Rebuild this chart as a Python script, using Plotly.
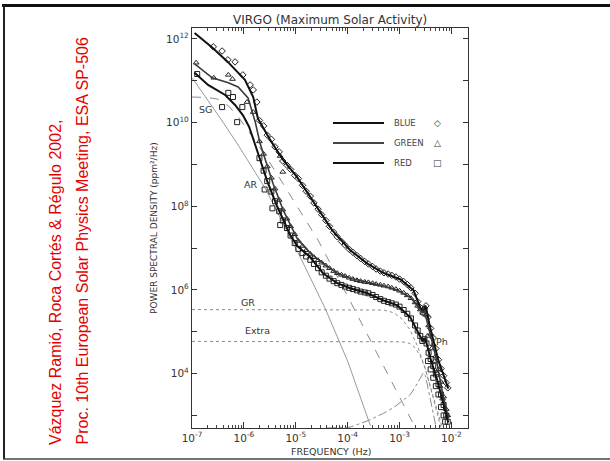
import numpy as np
import plotly.graph_objects as go

# ---------------- data (log10 frequency in Hz, log10 PSD in ppm^2/Hz) ----------------
# fitted model curves
blue_fit_lf = [-6.95, -6.60, -6.31, -5.98, -5.82, -5.73, -5.49, -5.24, -4.97, -4.72, -4.47, -4.30,
               -3.95, -3.62, -3.33, -2.98, -2.73, -2.60, -2.54, -2.50, -2.41, -2.25, -2.06]
blue_fit_lp = [12.14, 11.78, 11.45, 11.02, 10.61, 10.10, 9.58, 9.10, 8.69, 8.22, 7.74, 7.43,
               6.95, 6.63, 6.42, 6.25, 5.99, 5.58, 5.46, 5.63, 5.10, 4.31, 3.64]
green_fit_lf = [-6.95, -6.61, -6.30, -6.11, -5.92, -5.78, -5.69, -5.44, -5.24, -4.97, -4.72, -4.47,
                -4.20, -3.95, -3.62, -3.31, -3.04, -2.79, -2.66, -2.56, -2.52, -2.45, -2.30, -2.15, -2.06]
green_fit_lp = [11.40, 11.07, 10.95, 10.85, 10.59, 10.01, 9.51, 8.55, 7.90, 7.22, 6.88, 6.63,
                6.40, 6.28, 6.18, 6.10, 6.00, 5.82, 5.63, 5.46, 5.50, 5.15, 4.40, 3.40, 2.95]
red_fit_lf = [-6.95, -6.69, -6.36, -6.17, -6.02, -5.90, -5.75, -5.55, -5.36, -5.11, -4.97, -4.72,
              -4.47, -4.20, -3.95, -3.62, -3.31, -3.04, -2.79, -2.66, -2.56, -2.50, -2.40, -2.27, -2.06]
red_fit_lp = [11.19, 10.90, 10.66, 10.42, 10.18, 9.90, 9.35, 8.60, 8.00, 7.32, 7.05, 6.78,
              6.39, 6.16, 6.04, 5.92, 5.75, 5.63, 5.34, 5.03, 4.79, 4.83, 4.35, 3.83, 2.83]

# observed spectra (symbols)
blue_obs_lf = [-6.59, -6.42, -6.31, -6.17, -6.02, -5.88, -5.82, -5.75,
               -5.70, -5.62, -5.55, -5.47, -5.40, -5.32, -5.25, -5.17, -5.10, -5.02, -4.95, -4.87,
               -4.80, -4.72, -4.65, -4.57, -4.50, -4.42, -4.35, -4.27, -4.20, -4.12, -4.05, -3.97,
               -3.90, -3.82, -3.75, -3.67, -3.60, -3.52, -3.45, -3.37, -3.30, -3.22, -3.15, -3.07,
               -3.00, -2.92, -2.85, -2.78, -2.70, -2.65, -2.60, -2.55, -2.52, -2.49, -2.45, -2.40,
               -2.35, -2.30, -2.25, -2.20, -2.15, -2.10, -2.07]
blue_obs_lp = [11.81, 11.71, 11.50, 11.45, 11.14, 10.90, 10.78, 10.49,
               10.05, 9.92, 9.70, 9.60, 9.42, 9.30, 9.08, 8.98, 8.88, 8.74, 8.66, 8.50,
               8.36, 8.24, 8.08, 7.93, 7.80, 7.66, 7.52, 7.38, 7.27, 7.16, 7.07, 6.97,
               6.90, 6.82, 6.75, 6.68, 6.62, 6.56, 6.50, 6.45, 6.41, 6.38, 6.35, 6.31,
               6.26, 6.20, 6.13, 6.05, 5.92, 5.72, 5.58, 5.45, 5.55, 5.62, 5.35, 5.08,
               4.85, 4.60, 4.33, 4.12, 3.95, 3.78, 3.66]
green_obs_lf = [-6.92, -6.58, -6.30, -6.22, -5.94, -5.82, -5.30, -5.25,
                -5.70, -5.62, -5.55, -5.47, -5.40, -5.32, -5.25, -5.17, -5.10, -5.02, -4.95, -4.87,
                -4.80, -4.72, -4.65, -4.57, -4.50, -4.42, -4.35, -4.27, -4.20, -4.12, -4.05, -3.97,
                -3.90, -3.82, -3.75, -3.67, -3.60, -3.52, -3.45, -3.37, -3.30, -3.22, -3.15, -3.07,
                -3.00, -2.92, -2.85, -2.78, -2.70, -2.65, -2.60, -2.55, -2.52, -2.48, -2.44, -2.40,
                -2.35, -2.30, -2.25, -2.20, -2.15, -2.10, -2.07, -2.46, -2.38, -2.32, -2.27, -2.22, -2.17]
green_obs_lp = [11.43, 11.07, 11.14, 11.04, 10.49, 10.25, 9.20, 8.82,
                9.55, 9.25, 8.95, 8.68, 8.42, 8.15, 7.92, 7.70, 7.52, 7.33, 7.17, 7.05,
                6.95, 6.86, 6.78, 6.71, 6.65, 6.58, 6.52, 6.45, 6.40, 6.36, 6.33, 6.29,
                6.26, 6.23, 6.21, 6.19, 6.18, 6.16, 6.14, 6.12, 6.10, 6.08, 6.05, 6.02,
                5.98, 5.93, 5.87, 5.80, 5.70, 5.62, 5.53, 5.45, 5.52, 5.40, 5.15, 4.95,
                4.70, 4.42, 4.10, 3.80, 3.45, 3.15, 3.00, 4.90, 4.60, 4.30, 4.00, 3.70, 3.40]
red_obs_lf = [-6.90, -6.42, -6.30, -6.21, -6.13, -6.03, -5.60, -5.45, -5.30,
              -5.70, -5.62, -5.55, -5.47, -5.40, -5.32, -5.25, -5.17, -5.10, -5.02, -4.95, -4.87,
              -4.80, -4.72, -4.65, -4.57, -4.50, -4.42, -4.35, -4.27, -4.20, -4.12, -4.05, -3.97,
              -3.90, -3.82, -3.75, -3.67, -3.60, -3.52, -3.45, -3.37, -3.30, -3.22, -3.15, -3.07,
              -3.00, -2.92, -2.85, -2.78, -2.70, -2.65, -2.60, -2.56, -2.52, -2.48, -2.44, -2.40,
              -2.35, -2.30, -2.25, -2.20, -2.15, -2.10, -2.07, -2.45, -2.40, -2.35, -2.30, -2.25,
              -2.20, -2.15, -2.12]
red_obs_lp = [11.16, 10.37, 10.71, 10.61, 10.01, 10.37, 8.40, 7.95, 7.55,
              9.15, 8.85, 8.60, 8.35, 8.12, 7.88, 7.66, 7.48, 7.30, 7.12, 6.98, 6.88,
              6.80, 6.72, 6.62, 6.52, 6.42, 6.34, 6.27, 6.21, 6.16, 6.12, 6.08, 6.05,
              6.02, 5.99, 5.96, 5.94, 5.92, 5.88, 5.83, 5.78, 5.74, 5.71, 5.68, 5.65,
              5.60, 5.52, 5.43, 5.32, 5.15, 5.03, 4.90, 4.78, 4.82, 4.72, 4.50, 4.35,
              4.18, 3.98, 3.75, 3.50, 3.25, 3.00, 2.85, 4.30, 4.10, 3.90, 3.70, 3.50,
              3.20, 3.00, 2.85]

# model components
sg_lf = [-7.0, -6.7, -6.5, -6.3, -6.1, -5.8, -5.4, -5.0, -4.57, -4.0, -3.5, -3.0, -2.70]
sg_lp = [10.61, 10.60, 10.56, 10.40, 10.12, 9.60, 8.85, 8.05, 7.19, 5.85, 4.65, 3.45, 2.72]
ar_lf = [-7.0, -6.94, -6.43, -6.11, -5.59, -4.90, -4.43, -4.0, -3.56]
ar_lp = [11.07, 10.97, 10.06, 9.46, 8.43, 6.75, 5.55, 4.30, 2.75]
gr_lf = [-7.0, -3.3, -3.1, -2.95, -2.8, -2.65, -2.5, -2.35, -2.2, -2.15]
gr_lp = [5.53, 5.52, 5.45, 5.30, 5.05, 4.65, 4.10, 3.45, 2.80, 2.60]
extra_lf = [-7.0, -2.95, -2.8, -2.7, -2.6, -2.5, -2.4, -2.3, -2.2]
extra_lp = [4.77, 4.76, 4.72, 4.62, 4.42, 4.10, 3.65, 3.15, 2.70]
ph_lf = [-4.4, -3.95, -3.6, -3.31, -3.1, -2.93, -2.79, -2.66, -2.58, -2.54, -2.50, -2.44, -2.38, -2.30]
ph_lp = [2.70, 2.72, 2.88, 3.05, 3.20, 3.36, 3.50, 3.76, 3.95, 4.02, 3.95, 3.60, 3.20, 2.75]

y_label_exp = [4, 6, 8, 10, 12]
y_minor_exp = [3, 5, 7, 9, 11]
x_tick_exp = [-7, -6, -5, -4, -3, -2]

legend_names = ["BLUE", "GREEN", "RED"]
legend_syms = ["\u25C7", "\u25B3", "\u25A1"]

# ---------------- figure ----------------
def P(v):
    return 10 ** np.array(v, dtype=float)

INK = "#222222"
GRAY = "#8a8a8a"
fig = go.Figure()

comp_style = [
    (sg_lf, sg_lp, dict(color=GRAY, width=1, dash="dash")),
    (ar_lf, ar_lp, dict(color="#9a9a9a", width=1)),
    (gr_lf, gr_lp, dict(color=GRAY, width=1, dash="dot")),
    (extra_lf, extra_lp, dict(color=GRAY, width=1, dash="dot")),
    (ph_lf, ph_lp, dict(color=GRAY, width=1, dash="dashdot")),
]
for lf, lp, ln in comp_style:
    fig.add_trace(go.Scatter(x=P(lf), y=P(lp), mode="lines", line=ln, showlegend=False))

obs = [
    (blue_obs_lf, blue_obs_lp, "diamond-open"),
    (green_obs_lf, green_obs_lp, "triangle-up-open"),
    (red_obs_lf, red_obs_lp, "square-open"),
]
for lf, lp, sym in obs:
    fig.add_trace(go.Scatter(x=P(lf), y=P(lp), mode="markers",
                             marker=dict(symbol=sym, size=5, color=INK, line=dict(width=1, color=INK)),
                             showlegend=False))

fits = [
    (blue_fit_lf, blue_fit_lp, dict(color="#111111", width=2)),
    (green_fit_lf, green_fit_lp, dict(color="#3a3a3a", width=1.6)),
    (red_fit_lf, red_fit_lp, dict(color="#111111", width=2)),
]
for lf, lp, ln in fits:
    fig.add_trace(go.Scatter(x=P(lf), y=P(lp), mode="lines", line=ln, showlegend=False))

FONT = "DejaVu Sans"
L, R, T, B = 192, 468, 28, 428
W, H = R - L, B - T

def px(x):
    return (x - L) / W

def py(y):
    return (B - y) / H

ann = []
# title & axis titles
ann.append(dict(x=px(330), y=py(20), text="VIRGO (Maximum Solar Activity)",
                font=dict(family=FONT, size=12, color="#333")))
ann.append(dict(x=px(331), y=py(451), text="FREQUENCY (Hz)",
                font=dict(family=FONT, size=9.5, color="#333")))
ann.append(dict(x=px(154), y=py(228), text="POWER SPECTRAL DENSITY (ppm\u00B2/Hz)", textangle=-90,
                font=dict(family=FONT, size=9, color="#333")))
# component labels
comp_labels = [("SG", 205, 110), ("AR", 250, 185), ("GR", 248, 302), ("Extra", 257, 330), ("Ph", 442, 341)]
for t, x, y in comp_labels:
    ann.append(dict(x=px(x), y=py(y), text=t, font=dict(family=FONT, size=9.5, color="#333")))
# legend
leg_y = [123, 143, 163]
shapes = []
for name, sym, yy in zip(legend_names, legend_syms, leg_y):
    shapes.append(dict(type="line", xref="paper", yref="paper", x0=px(333), x1=px(384),
                       y0=py(yy), y1=py(yy),
                       line=dict(color="#111" if name != "GREEN" else "#444", width=2)))
    ann.append(dict(x=px(392), y=py(yy), xanchor="left", text=name,
                    font=dict(family=FONT, size=8.5, color="#444")))
    ann.append(dict(x=px(437), y=py(yy), text=sym, font=dict(family=FONT, size=9, color="#333")))
# citation text
ann.append(dict(x=px(55), y=py(447), yanchor="bottom", textangle=-90,
                text="V\u00e1zquez Rami\u00f3, Roca Cort\u00e9s &amp; R\u00e9gulo 2002,",
                font=dict(family="Liberation Sans", size=16, color="#e60000")))
ann.append(dict(x=px(82), y=py(447), yanchor="bottom", textangle=-90,
                text="Proc. 10th European Solar Physics Meeting, ESA SP-506",
                font=dict(family="Liberation Sans", size=16, color="#e60000")))
for a in ann:
    a.setdefault("xref", "paper")
    a.setdefault("yref", "paper")
    a.setdefault("xanchor", "center")
    a.setdefault("yanchor", "middle")
    a.setdefault("showarrow", False)

# slide frame
shapes.append(dict(type="line", xref="paper", yref="paper", x0=px(2), x1=px(640), y0=py(5.5), y1=py(5.5),
                   line=dict(color="#111", width=3)))
shapes.append(dict(type="line", xref="paper", yref="paper", x0=px(4), x1=px(4), y0=py(5), y1=py(459),
                   line=dict(color="#222", width=2)))
shapes.append(dict(type="line", xref="paper", yref="paper", x0=px(3), x1=px(640), y0=py(459), y1=py(459),
                   line=dict(color="#444", width=1.5)))

fig.update_layout(
    width=610, height=461,
    margin=dict(l=L, r=610 - R, t=T, b=461 - B, pad=0),
    paper_bgcolor="white", plot_bgcolor="white",
    showlegend=False,
    annotations=ann, shapes=shapes,
    font=dict(family=FONT, color="#333"),
)
fig.update_xaxes(
    type="log", range=[-7, -1.68],
    tickvals=[10.0 ** e for e in x_tick_exp],
    ticktext=["10<sup>%d</sup>" % e for e in x_tick_exp],
    ticks="inside", ticklen=6, tickcolor="#333", tickwidth=1,
    minor=dict(ticks="inside", ticklen=3, tickcolor="#444", dtick="D1", showgrid=False),
    showline=True, linecolor="#333", linewidth=1.2, mirror="allticks",
    showgrid=False, zeroline=False,
    tickfont=dict(family=FONT, size=10.5, color="#333"),
)
fig.update_yaxes(
    type="log", range=[2.70, 12.26],
    tickvals=[10.0 ** e for e in y_label_exp],
    ticktext=["10<sup>%d</sup>" % e for e in y_label_exp],
    ticks="inside", ticklen=5, tickcolor="#333", tickwidth=1,
    minor=dict(ticks="inside", ticklen=5, tickcolor="#333",
               tickvals=[10.0 ** e for e in y_minor_exp], showgrid=False),
    showline=True, linecolor="#333", linewidth=1.2, mirror="allticks",
    showgrid=False, zeroline=False,
    tickfont=dict(family=FONT, size=10.5, color="#333"),
)

fig.write_html("out.html", config={"displayModeBar": False},
               post_script="document.body.style.margin='0px';document.body.style.overflow='hidden';")
